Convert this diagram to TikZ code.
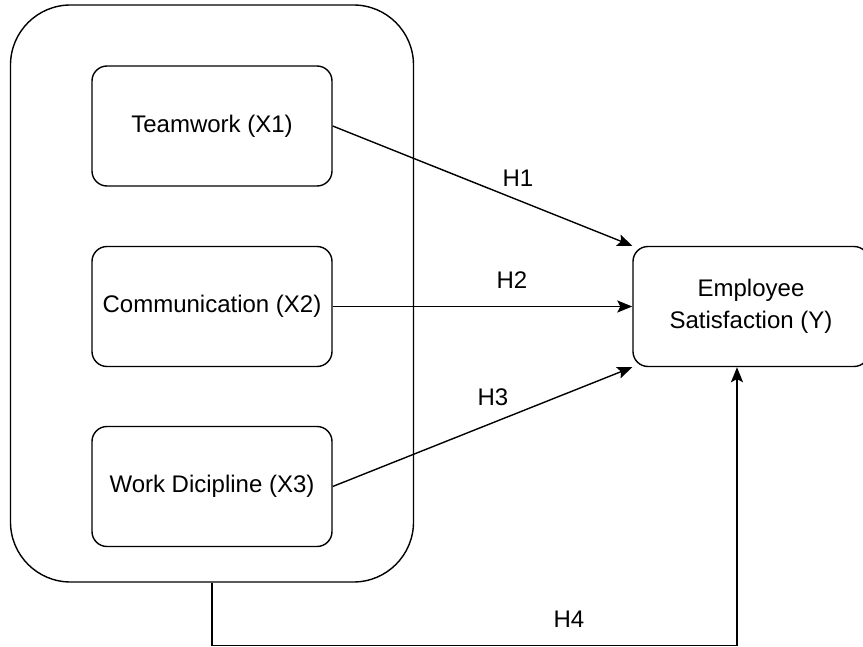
\documentclass[tikz,border=0pt]{standalone}
\usepackage{fontspec}
\setmainfont{Liberation Sans}
\usetikzlibrary{arrows.meta}
\tikzset{bx/.style={draw, line width=1.4pt, rounded corners=15pt, inner sep=0pt, minimum width=240pt, minimum height=120pt, align=center, font=\fontsize{24}{32}\selectfont}}
\tikzset{hlbl/.style={font=\fontsize{24}{28}\selectfont, inner sep=0pt}}
\tikzset{arr/.style={line width=1.4pt, -{Stealth[length=15pt, width=12pt, inset=3pt]}}}

\begin{document}
\begin{tikzpicture}[x=1pt, y=-1pt]
  \useasboundingbox (0,0) rectangle (863,647);
  \node[draw, line width=1.4pt, rounded corners=60pt, minimum width=403pt, minimum height=577pt] (grp) at (212,293.5) {};
  \node[bx] (tw) at (212,126) {Teamwork (X1)};
  \node[bx] (cm) at (212,306.5) {Communication (X2)};
  \node[bx] (wd) at (212,486.5) {Work Dicipline (X3)};
  \node[bx, minimum width=236pt] (emp) at (751,306.5) {Employee\\Satisfaction (Y)};

  \draw[arr] (tw.east) -- (emp.north west);
  \draw[arr] (cm.east) -- (emp.west);
  \draw[arr] (wd.east) -- (emp.south west);
  \draw[arr] (grp.south) -- ++(0,63) -| ([xshift=-14pt]emp.south);

  \node[hlbl] (h1) at (518,178) {H1};
  \node[hlbl] (h2) at (512,280) {H2};
  \node[hlbl] (h3) at (493,397) {H3};
  \node[hlbl] (h4) at (569,619) {H4};
\end{tikzpicture}
\end{document}
